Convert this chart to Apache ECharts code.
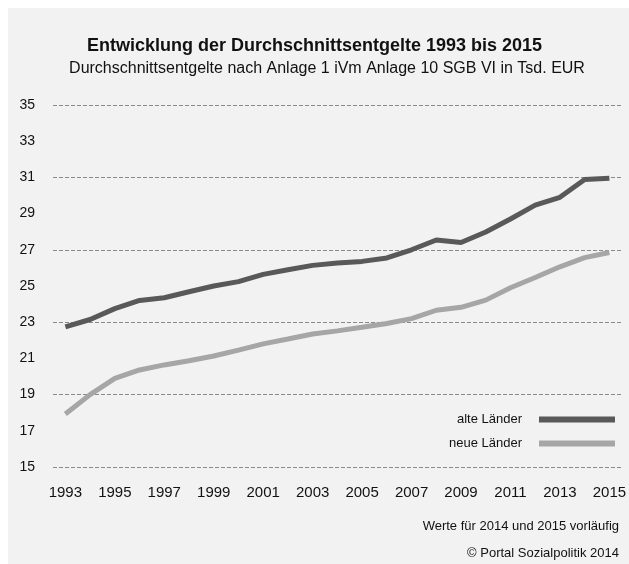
<!DOCTYPE html>
<html>
<head>
<meta charset="utf-8">
<script src="https://cdn.jsdelivr.net/npm/echarts@6/dist/echarts.min.js"></script>
<style>
  html, body { margin: 0; padding: 0; background: #fff; }
  #wrap { position: absolute; left: 8px; top: 8px; width: 621px; height: 556px; background: #f2f2f2; }
  #main { position: absolute; left: -8px; top: -8px; width: 629px; height: 564px; }
</style>
</head>
<body>
<div id="wrap"><div id="main"></div></div>
<script>
var years = ["1993", "1994", "1995", "1996", "1997", "1998", "1999", "2000", "2001", "2002", "2003", "2004",
  "2005", "2006", "2007", "2008", "2009", "2010", "2011", "2012", "2013", "2014", "2015"];
var alteLaender = [22.74, 23.15, 23.75, 24.2, 24.35, 24.68, 25.0, 25.24, 25.64, 25.9, 26.14, 26.27,
  26.36, 26.55, 27.0, 27.54, 27.4, 27.98, 28.7, 29.47, 29.9, 30.88, 30.95];
var neueLaender = [17.93, 19.0, 19.9, 20.36, 20.64, 20.87, 21.13, 21.46, 21.8, 22.07, 22.35, 22.52,
  22.72, 22.93, 23.2, 23.66, 23.82, 24.22, 24.9, 25.47, 26.06, 26.57, 26.85];
var seriesNames = ["alte Länder", "neue Länder"];
var notes = ["Werte für 2014 und 2015 vorläufig", "© Portal Sozialpolitik 2014"];

var chart = echarts.init(document.getElementById("main"));
var font = "'Liberation Sans', Arial, sans-serif";
var option = {
  backgroundColor: "transparent",
  textStyle: { fontFamily: font },
  title: [
    {
      text: "Entwicklung der Durchschnittsentgelte 1993 bis 2015",
      left: "center",
      top: 32,
      textStyle: { fontSize: 18, fontWeight: "bold", color: "#111", fontFamily: font }
    },
    {
      text: "Durchschnittsentgelte nach Anlage 1 iVm Anlage 10 SGB VI in Tsd. EUR",
      left: 322,
      textAlign: "center",
      top: 56,
      textStyle: { fontSize: 16, fontWeight: "normal", color: "#111", fontFamily: font }
    },
    {
      text: notes[0],
      right: 5,
      top: 515,
      textStyle: { fontSize: 13, fontWeight: "normal", color: "#111", fontFamily: font }
    },
    {
      text: notes[1],
      right: 5,
      top: 542,
      textStyle: { fontSize: 13, fontWeight: "normal", color: "#111", fontFamily: font }
    }
  ],
  legend: {
    orient: "vertical",
    right: 9,
    top: 408,
    align: "right",
    itemWidth: 76,
    itemHeight: 6,
    itemGap: 11,
    icon: "rect",
    textStyle: { fontSize: 13, color: "#111", fontFamily: font, padding: [0, 12, 0, 0] },
    data: seriesNames
  },
  grid: { left: 53, right: 4, top: 105, bottom: 97 },
  xAxis: {
    type: "category",
    data: years,
    boundaryGap: true,
    axisLine: { show: false },
    axisTick: { show: false },
    axisLabel: { interval: 1, fontSize: 15, color: "#111", margin: 18, fontFamily: font },
    splitLine: { show: false }
  },
  yAxis: [
    {
      type: "value",
      min: 15,
      max: 35,
      interval: 2,
      axisLine: { show: false },
      axisTick: { show: false },
      axisLabel: { fontSize: 14, color: "#111", margin: 18, fontFamily: font },
      splitLine: { show: false }
    },
    {
      type: "value",
      position: "left",
      min: 15,
      max: 35,
      interval: 4,
      axisLine: { show: false },
      axisTick: { show: false },
      axisLabel: { show: false },
      splitLine: { show: true, lineStyle: { color: "#8a8a8a", width: 1, type: [4, 2] } }
    }
  ],
  series: [
    {
      name: seriesNames[0],
      type: "line",
      data: alteLaender,
      symbol: "none",
      color: "#595959",
      lineStyle: { width: 5, color: "#595959" },
      z: 3
    },
    {
      name: seriesNames[1],
      type: "line",
      data: neueLaender,
      symbol: "none",
      color: "#a6a6a6",
      lineStyle: { width: 5, color: "#a6a6a6" },
      z: 2
    }
  ]
};
chart.setOption(option);
</script>
</body>
</html>
